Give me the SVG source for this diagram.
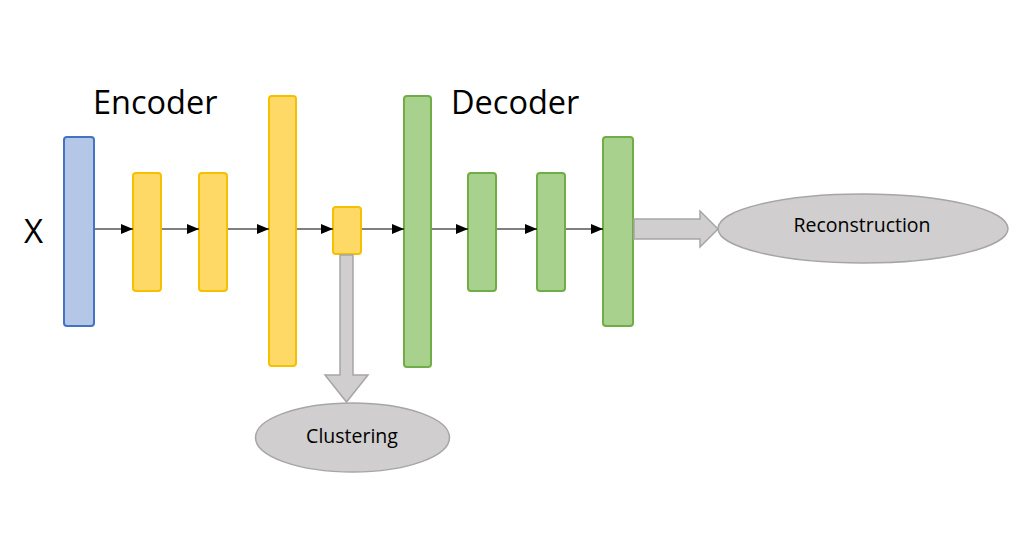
<svg xmlns="http://www.w3.org/2000/svg" width="1032" height="546" viewBox="0 0 1032 546">
<defs>
<style>
.blue{fill:#b4c7e7;stroke:#4472c4;stroke-width:2}
.yel{fill:#ffd966;stroke:#f5c000;stroke-width:2}
.grn{fill:#a9d18e;stroke:#70ad47;stroke-width:2}
.gray{fill:#d0cece;stroke:#a6a6a6;stroke-width:1.5}
.conn{stroke:#000;stroke-width:1;fill:none;marker-end:url(#ah)}
.title{font-family:"Open Sans","Noto Sans",sans-serif;font-size:32.5px;fill:#000}
.lbl{font-family:"Open Sans","Noto Sans",sans-serif;font-size:19.5px;fill:#000;text-anchor:middle}
</style>
<marker id="ah" viewBox="0 0 12 10" refX="12" refY="5" markerWidth="12" markerHeight="10" markerUnits="userSpaceOnUse" orient="auto">
<path d="M0,0 L12,5 L0,10 z" fill="#000"/>
</marker>
</defs>
<rect width="1032" height="546" fill="#fff"/>
<text class="title" x="93" y="114">Encoder</text>
<text class="title" x="451" y="114">Decoder</text>
<text x="24" y="243" style="font-family:'Open Sans','Noto Sans',sans-serif;font-size:33px;fill:#000">X</text>
<g id="input"><rect class="blue" x="64" y="137" width="30" height="189" rx="3"/></g>
<g id="enc1"><rect class="yel" x="133" y="173" width="28" height="118" rx="3"/></g>
<g id="enc2"><rect class="yel" x="199" y="173" width="28" height="118" rx="3"/></g>
<g id="enc3"><rect class="yel" x="269" y="96" width="27" height="270" rx="3"/></g>
<g id="latent"><rect class="yel" x="333" y="207" width="28" height="47" rx="3"/></g>
<g id="dec1"><rect class="grn" x="404" y="96" width="27" height="271" rx="3"/></g>
<g id="dec2"><rect class="grn" x="468" y="173" width="28" height="118" rx="3"/></g>
<g id="dec3"><rect class="grn" x="537" y="173" width="28" height="118" rx="3"/></g>
<g id="output"><rect class="grn" x="603" y="137" width="30" height="189" rx="3"/></g>
<g id="reconstruction">
<ellipse class="gray" cx="863" cy="228.5" rx="145" ry="34.5"/>
<text class="lbl" x="862" y="232">Reconstruction</text>
</g>
<g id="clustering">
<ellipse class="gray" cx="352.5" cy="437.5" rx="97" ry="34.5"/>
<text class="lbl" x="352" y="443">Clustering</text>
</g>
<g id="connectors">
<line class="conn" x1="95" y1="229" x2="133" y2="229"/>
<line class="conn" x1="162" y1="229" x2="199" y2="229"/>
<line class="conn" x1="228" y1="229" x2="269" y2="229"/>
<line class="conn" x1="297" y1="229" x2="333" y2="229"/>
<line class="conn" x1="362" y1="229" x2="404" y2="229"/>
<line class="conn" x1="432" y1="229" x2="468" y2="229"/>
<line class="conn" x1="497" y1="229" x2="537" y2="229"/>
<line class="conn" x1="566" y1="229" x2="603" y2="229"/>
<path class="gray" d="M634,219 L700,219 L700,211 L718,229 L700,247 L700,239 L634,239 Z"/>
<path class="gray" d="M340,255 L353,255 L353,375 L368,375 L346.5,402 L325,375 L340,375 Z"/>
</g>
</svg>
